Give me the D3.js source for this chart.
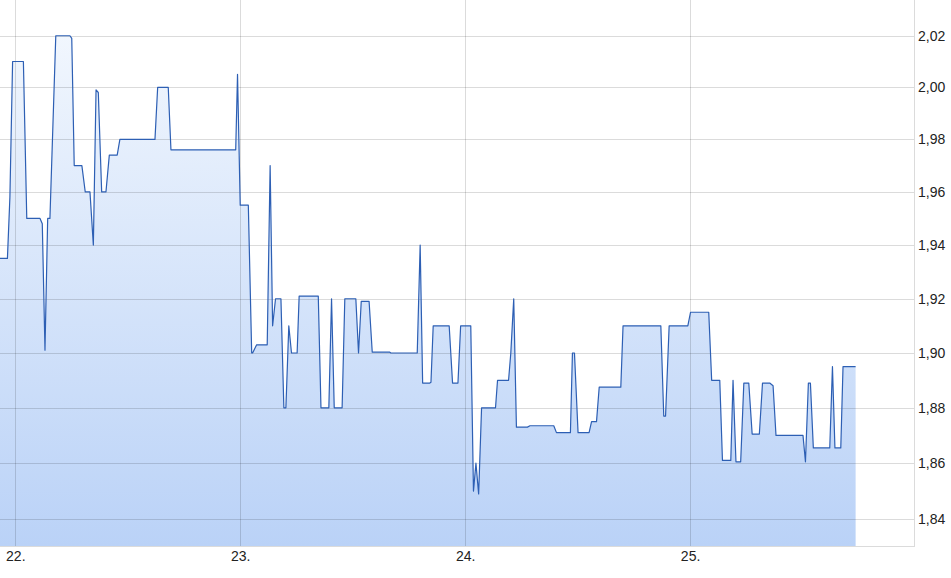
<!DOCTYPE html>
<html>
<head>
<meta charset="utf-8">
<script src="https://cdn.jsdelivr.net/npm/d3@7"></script>
<style>
html,body{margin:0;padding:0;background:#fff;}
svg{display:block;font-family:"Liberation Sans",Arial,sans-serif;}
</style>
</head>
<body>
<svg id="chart" width="951" height="578"></svg>
<script>
// Time as fractional day of month, price in EUR
const times = [21.932,21.965,21.976,21.988,22.036,22.051,22.110,22.120,22.132,22.144,
22.154,22.180,22.243,22.251,22.262,22.296,22.311,22.332,22.347,22.359,
22.369,22.384,22.403,22.418,22.453,22.465,22.621,22.633,22.680,22.692,
22.980,22.988,23.000,23.036,23.051,23.055,23.073,23.120,23.133,23.144,
23.157,23.181,23.194,23.203,23.216,23.228,23.253,23.262,23.347,23.359,
23.394,23.406,23.418,23.453,23.465,23.514,23.526,23.538,23.573,23.587,
23.665,23.670,23.787,23.800,23.811,23.843,23.848,23.858,23.929,23.944,
23.968,23.980,24.025,24.037,24.048,24.060,24.073,24.135,24.144,24.193,
24.203,24.216,24.228,24.277,24.288,24.394,24.406,24.468,24.477,24.486,
24.502,24.551,24.562,24.584,24.596,24.692,24.702,24.870,24.883,24.891,
24.907,24.990,25.002,25.083,25.096,25.132,25.144,25.181,25.191,25.204,
25.225,25.239,25.261,25.276,25.308,25.322,25.354,25.369,25.382,25.502,
25.513,25.526,25.535,25.548,25.621,25.633,25.644,25.670,25.680,25.736];
const prices = [1.935,1.935,1.958,2.010,2.010,1.950,1.950,1.948,1.901,1.950,
1.950,2.020,2.020,2.019,1.970,1.970,1.960,1.960,1.940,1.999,
1.998,1.960,1.960,1.974,1.974,1.980,1.980,2.000,2.000,1.976,
1.976,2.005,1.955,1.955,1.900,1.900,1.903,1.903,1.970,1.910,
1.920,1.920,1.880,1.880,1.910,1.900,1.900,1.921,1.921,1.880,
1.880,1.920,1.880,1.880,1.920,1.920,1.900,1.919,1.919,1.9003,
1.9003,1.900,1.900,1.940,1.889,1.889,1.8893,1.910,1.910,1.889,
1.889,1.910,1.910,1.850,1.860,1.849,1.880,1.880,1.890,1.890,
1.900,1.920,1.873,1.873,1.8735,1.8735,1.871,1.871,1.900,1.900,
1.871,1.871,1.875,1.875,1.8875,1.8875,1.910,1.910,1.877,1.877,
1.910,1.910,1.915,1.915,1.890,1.890,1.861,1.861,1.890,1.8605,
1.8605,1.889,1.889,1.8705,1.8705,1.889,1.889,1.888,1.870,1.870,
1.8605,1.889,1.889,1.8655,1.8655,1.895,1.8655,1.8655,1.895,1.895];
const yTicks = [1.84,1.86,1.88,1.90,1.92,1.94,1.96,1.98,2.00,2.02];
const xTicks = [22,23,24,25];
const xTickLabels = ["22.","23.","24.","25."];

const data = times.map((t,i)=>({t:t, v:prices[i]}));

const W = 914, H = 546;
const svg = d3.select("#chart");

const x = d3.scaleLinear().domain([21.932, 26.0]).range([0, 915]);
const y = d3.scaleLog().domain([1.8305, 2.034]).range([H, 0]);

// gradient
const defs = svg.append("defs");
const grad = defs.append("linearGradient").attr("id","fillGrad")
  .attr("gradientUnits","userSpaceOnUse").attr("x1",0).attr("y1",0).attr("x2",0).attr("y2",H);
grad.append("stop").attr("offset","0%").attr("stop-color","#f5f9fe");
grad.append("stop").attr("offset","100%").attr("stop-color","#bad2f7");

const area = d3.area().x(d=>x(d.t)).y0(H).y1(d=>y(d.v));
const line = d3.line().x(d=>x(d.t)).y(d=>y(d.v));

svg.append("path").datum(data).attr("d",area).attr("fill","url(#fillGrad)");

// grid
const grid = svg.append("g").attr("stroke","#000").attr("stroke-opacity",0.14).attr("stroke-width",1).attr("shape-rendering","crispEdges");
grid.selectAll("line.h").data(yTicks).join("line")
  .attr("x1",0).attr("x2",W).attr("y1",d=>Math.round(y(d))+0.5).attr("y2",d=>Math.round(y(d))+0.5);
grid.selectAll("line.v").data(xTicks).join("line")
  .attr("y1",0).attr("y2",H).attr("x1",d=>Math.round(x(d))+0.5).attr("x2",d=>Math.round(x(d))+0.5);
// border right and bottom
grid.append("line").attr("x1",W+0.5).attr("x2",W+0.5).attr("y1",0).attr("y2",H+0.5);
grid.append("line").attr("x1",0).attr("x2",W).attr("y1",H+0.5).attr("y2",H+0.5);

svg.append("path").datum(data).attr("d",line)
  .attr("fill","none").attr("stroke","#2d5fb4").attr("stroke-width",1.2).attr("stroke-linejoin","round");

// y axis labels
const yAxis = d3.axisRight(y).tickValues(yTicks).tickSize(0).tickPadding(4)
  .tickFormat(d=>d3.format(".2f")(d).replace(".",","));
const ya = svg.append("g").attr("transform",`translate(${W},0)`).call(yAxis);
ya.select(".domain").remove();
ya.selectAll("text").attr("font-size","14px").attr("fill","#222").attr("font-family","Liberation Sans, Arial, sans-serif");

// x axis labels
const xAxis = d3.axisBottom(x).tickValues(xTicks).tickSize(0).tickPadding(5)
  .tickFormat((d,i)=>xTickLabels[i]);
const xa = svg.append("g").attr("transform",`translate(0,${H})`).call(xAxis);
xa.select(".domain").remove();
xa.selectAll("text").attr("font-size","14px").attr("fill","#222").attr("font-family","Liberation Sans, Arial, sans-serif");
</script>
</body>
</html>
